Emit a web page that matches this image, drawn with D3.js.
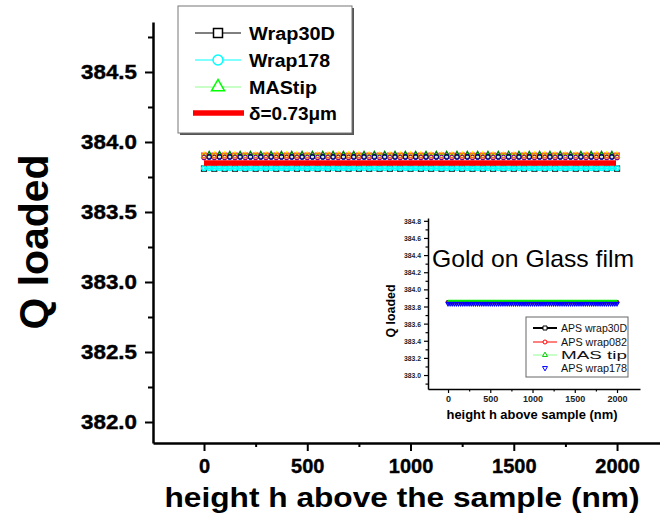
<!DOCTYPE html>
<html><head><meta charset="utf-8">
<script src="https://cdn.jsdelivr.net/npm/d3@7"></script>
<style>body{margin:0;background:#fff}svg{display:block;background:#fff}text{font-family:"Liberation Sans",Arial,sans-serif}</style>
</head><body><svg id="c" width="660" height="525"></svg>
<script>
// ---------- data ----------
const heights = [0,50,100,150,200,250,300,350,400,450,500,550,600,650,700,750,800,850,900,950,1000,1050,1100,1150,1200,1250,1300,1350,1400,1450,1500,1550,1600,1650,1700,1750,1800,1850,1900,1950,2000];
const heightsOffset = [25,75,125,175,225,275,325,375,425,475,525,575,625,675,725,775,825,875,925,975,1025,1075,1125,1175,1225,1275,1325,1375,1425,1475,1525,1575,1625,1675,1725,1775,1825,1875,1925,1975];
const xTicks = [0,500,1000,1500,2000];
const xMinorTicks = [250,750,1250,1750];
const yTicks = [382.0,382.5,383.0,383.5,384.0,384.5];
const yMinorTicks = [382.25,382.75,383.25,383.75,384.25,384.75];
const legendNames = ["Wrap30D","Wrap178","MAStip","δ=0.73μm"];
const seriesLevels = [383.81,383.812,383.90];          // Wrap30D, Wrap178, MAStip (Q loaded)
const deltaLevel = 383.85;
const deltaRange = [0,1995];
const otherLevels = [383.905,383.895,383.912,383.90,383.89,383.915,383.902,383.893];
const otherColors = ["#ff00ff","#0000ff","#ffff00","#808080","#800080","#008000","#ff8000","#000080"];
const insetNames = ["APS wrap30D","APS wrap082","MAS tip","APS wrap178"];
const insetLevels = [383.85,383.85,383.866,383.834];
const insetXTicks = [0,500,1000,1500,2000];
const insetXMinor = [250,750,1250,1750];
const insetYTicks = [383.0,383.2,383.4,383.6,383.8,384.0,384.2,384.4,384.6,384.8];
const insetYMinor = [382.9,383.1,383.3,383.5,383.7,383.9,384.1,384.3,384.5,384.7];

// ---------- setup ----------
const svg = d3.select("#c");
const x = d3.scaleLinear().domain([-247,2208]).range([153,660]);
const y = d3.scaleLinear().domain([381.85,384.857]).range([443,22]);

function sym(type, px){
  let s;
  if(type===d3.symbolSquare) s = px*px;
  else if(type===d3.symbolCircle) s = Math.PI*px*px/4;
  else s = px*px*0.433;
  return d3.symbol().type(type).size(s);
}
function markers(g, xs, level, sx, sy, type, px, color, sw, rot){
  g.selectAll(null).data(xs).enter().append("path")
    .attr("d", sym(type,px)())
    .attr("transform", d=>`translate(${sx(d)},${sy(level)})` + (rot?` rotate(${rot})`:""))
    .attr("fill","none").attr("stroke",color).attr("stroke-width",sw);
}
function hline(g, xs, level, sx, sy, color, w){
  g.append("path").datum(xs)
    .attr("d", d3.line().x(d=>sx(d)).y(()=>sy(level)))
    .attr("fill","none").attr("stroke",color).attr("stroke-width",w);
}

// ---------- main axes ----------
const yAxis = svg.append("g").attr("transform","translate(153,0)")
  .call(d3.axisLeft(y).tickValues(yTicks).tickSize(8).tickSizeOuter(0).tickPadding(8).tickFormat(d3.format(".1f")));
svg.append("g").attr("transform","translate(153,0)")
  .call(d3.axisLeft(y).tickValues(yMinorTicks).tickSize(5).tickSizeOuter(0).tickFormat(""))
  .select(".domain").remove();
const xAxis = svg.append("g").attr("transform","translate(0,443)")
  .call(d3.axisBottom(x).tickValues(xTicks).tickSize(8).tickSizeOuter(0).tickPadding(8).tickFormat(d3.format("d")));
svg.append("g").attr("transform","translate(0,443)")
  .call(d3.axisBottom(x).tickValues(xMinorTicks).tickSize(4).tickSizeOuter(0).tickFormat(""))
  .select(".domain").remove();
svg.selectAll(".domain").attr("stroke","#000").attr("stroke-width",2.5);
svg.selectAll(".tick line").attr("stroke","#000").attr("stroke-width",2);
yAxis.selectAll("text").attr("font-size",20).attr("font-weight","bold").attr("fill","#000")
  .attr("stroke","#000").attr("stroke-width",0.4)
  .attr("textLength",56).attr("lengthAdjust","spacingAndGlyphs").attr("font-family","Liberation Sans, Arial, sans-serif");
xAxis.selectAll("text").attr("font-size",20).attr("font-weight","bold").attr("fill","#000")
  .attr("stroke","#000").attr("stroke-width",0.4)
  .attr("font-family","Liberation Sans, Arial, sans-serif");

svg.append("text").attr("transform","translate(48,242) rotate(-90)").attr("text-anchor","middle")
  .attr("font-size",40).attr("font-weight","bold").attr("textLength",175).attr("lengthAdjust","spacingAndGlyphs")
  .text("Q loaded");
svg.append("text").attr("x",402).attr("y",507).attr("text-anchor","middle")
  .attr("font-size",28).attr("font-weight","bold").attr("textLength",475).attr("lengthAdjust","spacingAndGlyphs")
  .text("height h above the sample (nm)");

// ---------- main data ----------
const gd = svg.append("g");
hline(gd, heights, seriesLevels[2], x, y, "#90ff90", 1);
markers(gd, heights, seriesLevels[2], x, y, d3.symbolTriangle, 5, "#00ff00", 1.1);
otherLevels.forEach((lv,i)=>{
  const grid = i%2 ? heightsOffset : heights;
  const type = [d3.symbolSquare,d3.symbolCircle,d3.symbolTriangle][i%3];
  markers(gd, grid, lv, x, y, type, 4.5, otherColors[i], 1.2);
});
hline(gd, heights, seriesLevels[0], x, y, "#000", 1);
markers(gd, heights, seriesLevels[0], x, y, d3.symbolSquare, 5, "#000", 1.2);
hline(gd, heights, seriesLevels[1], x, y, "#00ffff", 2);
markers(gd, heights.concat(heightsOffset), seriesLevels[1], x, y, d3.symbolCircle, 4.5, "#00ffff", 1.6);
hline(gd, deltaRange, deltaLevel, x, y, "#ff0000", 5.5);

// ---------- main legend ----------
const lg = svg.append("g");
lg.append("rect").attr("x",180).attr("y",8).attr("width",174).attr("height",127).attr("fill","#555");
lg.append("rect").attr("x",178).attr("y",6).attr("width",174).attr("height",127).attr("fill","#fff").attr("stroke","#777").attr("stroke-width",1);
const rowsY = [33,60,87,113];
const legW = [86,81,68,88];
const legLine = ["#000","#00ffff","#90ff90","#ff0000"];
const legLW = [1,1,1,5.5];
legendNames.forEach((n,i)=>{
  lg.append("line").attr("x1",i===3?193:195).attr("x2",i===3?244:241).attr("y1",rowsY[i]).attr("y2",rowsY[i])
    .attr("stroke",legLine[i]).attr("stroke-width",legLW[i]);
  lg.append("text").attr("x",249).attr("y",rowsY[i]+6.5).attr("font-size",18).attr("font-weight","bold")
    .attr("textLength",legW[i]).attr("lengthAdjust","spacingAndGlyphs").text(n);
});
[[d3.symbolSquare,9,"#000"],[d3.symbolCircle,10,"#00ffff"],[d3.symbolTriangle,13,"#00ff00"]].forEach((m,i)=>{
  lg.append("path").attr("d",sym(m[0],m[1])()).attr("transform",`translate(218,${rowsY[i]})`)
    .attr("fill","#fff").attr("stroke",m[2]).attr("stroke-width",1.5);
});

// ---------- inset ----------
const xi = d3.scaleLinear().domain([-237,2272]).range([428,640]);
const yi = d3.scaleLinear().domain([382.837,384.833]).range([389,218]);
const gi = svg.append("g");
const iy = gi.append("g").attr("transform","translate(428,0)")
  .call(d3.axisLeft(yi).tickValues(insetYTicks).tickSize(4).tickSizeOuter(0).tickPadding(3).tickFormat(d3.format(".1f")));
gi.append("g").attr("transform","translate(428,0)")
  .call(d3.axisLeft(yi).tickValues(insetYMinor).tickSize(2.5).tickSizeOuter(0).tickFormat(""))
  .select(".domain").remove();
const ix = gi.append("g").attr("transform","translate(0,389)")
  .call(d3.axisBottom(xi).tickValues(insetXTicks).tickSize(4).tickSizeOuter(0).tickPadding(3).tickFormat(d3.format("d")));
gi.append("g").attr("transform","translate(0,389)")
  .call(d3.axisBottom(xi).tickValues(insetXMinor).tickSize(2.5).tickSizeOuter(0).tickFormat(""))
  .select(".domain").remove();
gi.selectAll(".domain").attr("stroke","#000").attr("stroke-width",1.5);
gi.selectAll(".tick line").attr("stroke","#000").attr("stroke-width",1.2);
iy.selectAll("text").attr("font-size",8).attr("font-weight","bold").attr("fill","#222")
  .attr("textLength",17).attr("lengthAdjust","spacingAndGlyphs").attr("font-family","Liberation Sans, Arial, sans-serif");
ix.selectAll("text").attr("font-size",9).attr("font-weight","bold").attr("fill","#222")
  .attr("font-family","Liberation Sans, Arial, sans-serif");

gi.append("text").attr("x",432).attr("y",267).attr("font-size",24)
  .attr("textLength",202).attr("lengthAdjust","spacingAndGlyphs").text("Gold on Glass film");
gi.append("text").attr("transform","translate(395,311) rotate(-90)").attr("text-anchor","middle")
  .attr("font-size",12).attr("font-weight","bold").attr("textLength",53).attr("lengthAdjust","spacingAndGlyphs").text("Q loaded");
gi.append("text").attr("x",532).attr("y",419).attr("text-anchor","middle")
  .attr("font-size",12).attr("font-weight","bold").attr("textLength",171).attr("lengthAdjust","spacingAndGlyphs")
  .text("height h above sample (nm)");

hline(gi, heights, insetLevels[0], xi, yi, "#000", 1);
markers(gi, heights, insetLevels[0], xi, yi, d3.symbolSquare, 3, "#000", 0.8);
hline(gi, heights, insetLevels[1], xi, yi, "#ff0000", 1);
markers(gi, heights, insetLevels[1], xi, yi, d3.symbolCircle, 3, "#ff0000", 0.8);
markers(gi, heights.concat(heightsOffset), insetLevels[3], xi, yi, d3.symbolTriangle, 4, "#0000ff", 1.2, 180);
hline(gi, heights, insetLevels[2], xi, yi, "#00ee00", 2);

// inset legend
const il = gi.append("g");
il.append("rect").attr("x",526).attr("y",317).attr("width",102).attr("height",60).attr("fill","#fff").attr("stroke","#666").attr("stroke-width",1);
const iRows = [328,342,355,368];
const iCol = ["#000","#ff0000","#90ff90",null];
const iMk = [[d3.symbolSquare,4,"#000",0],[d3.symbolCircle,4,"#ff0000",0],[d3.symbolTriangle,5,"#00cc00",0],[d3.symbolTriangle,5,"#0000ff",180]];
insetNames.forEach((n,i)=>{
  if(iCol[i]) il.append("line").attr("x1",533).attr("x2",557).attr("y1",iRows[i]).attr("y2",iRows[i])
    .attr("stroke",iCol[i]).attr("stroke-width",i===0?2:1);
  il.append("path").attr("d",sym(iMk[i][0],iMk[i][1])()).attr("transform",`translate(545,${iRows[i]}) rotate(${iMk[i][3]})`)
    .attr("fill","#fff").attr("stroke",iMk[i][2]).attr("stroke-width",1);
  il.append("text").attr("x",561).attr("y",iRows[i]+4).attr("font-size",11).attr("fill","#111")
    .attr("textLength",66).attr("lengthAdjust","spacingAndGlyphs").text(n);
});
</script></body></html>
